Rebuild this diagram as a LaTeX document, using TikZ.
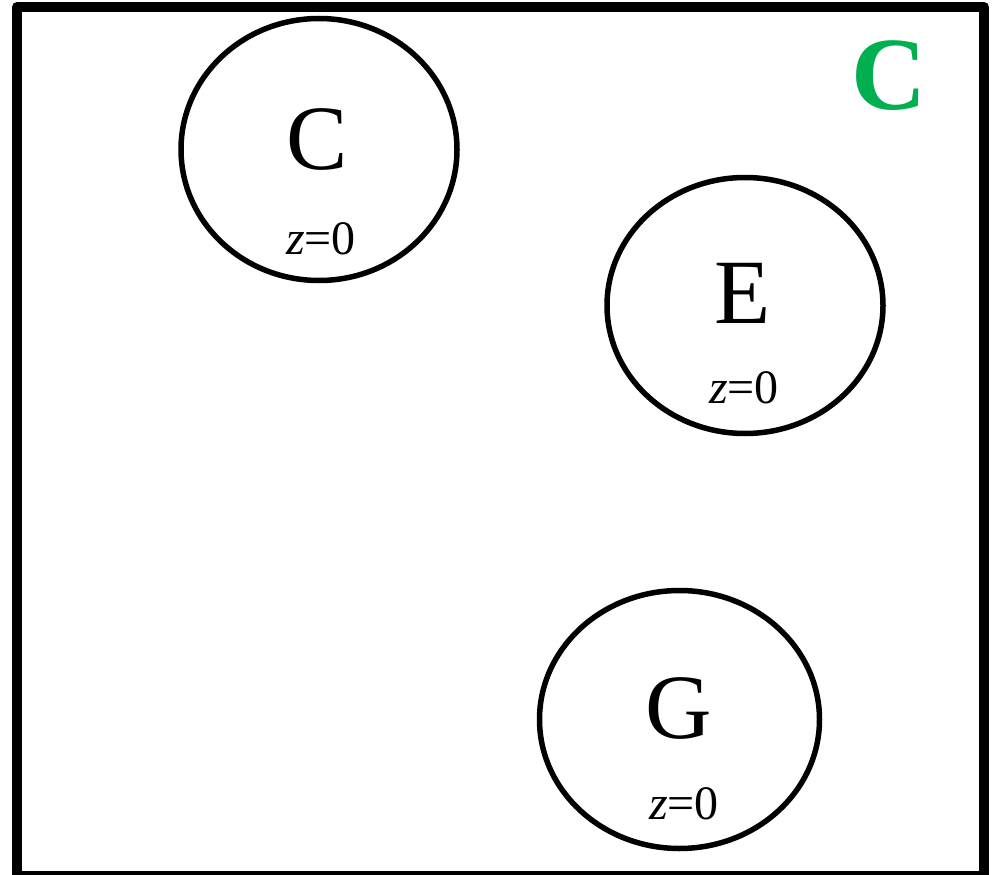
\documentclass[tikz,border=0pt]{standalone}
\usepackage{fontspec}
\setmainfont{Liberation Serif}
\usetikzlibrary{shapes.geometric}
\definecolor{labgreen}{RGB}{0,176,80}
\begin{document}
\begin{tikzpicture}[x=1pt,y=-1pt,
  state/.style={draw,ellipse,line width=5.5pt,inner sep=0pt},
  big/.style={anchor=base,inner sep=0pt,font=\fontsize{92}{92}\selectfont},
  small/.style={anchor=base,inner sep=0pt,font=\fontsize{48}{48}\selectfont}]
\useasboundingbox (0,0) rectangle (997,875);
\draw[line width=10pt,line join=round] (17,7) rectangle (984,876);
\node[state,minimum width=276pt,minimum height=262pt] (c) at (319,149.5) {};
\node[state,minimum width=276pt,minimum height=256pt] (e) at (745,305.5) {};
\node[state,minimum width=280pt,minimum height=258pt] (g) at (679.5,719.5) {};
\node[big] (ct) at (317,169) {C};
\node[small] (cz) at (321,254) {\textit{z}=0};
\node[big] (et) at (743,323) {E};
\node[small] (ez) at (744,403) {\textit{z}=0};
\node[big] (gt) at (679,738) {G};
\node[small] (gz) at (684,819) {\textit{z}=0};
\node[anchor=base,inner sep=0pt,font=\fontsize{104}{104}\selectfont\bfseries,text=labgreen] (lab) at (889.5,110) {C};
\end{tikzpicture}
\end{document}
